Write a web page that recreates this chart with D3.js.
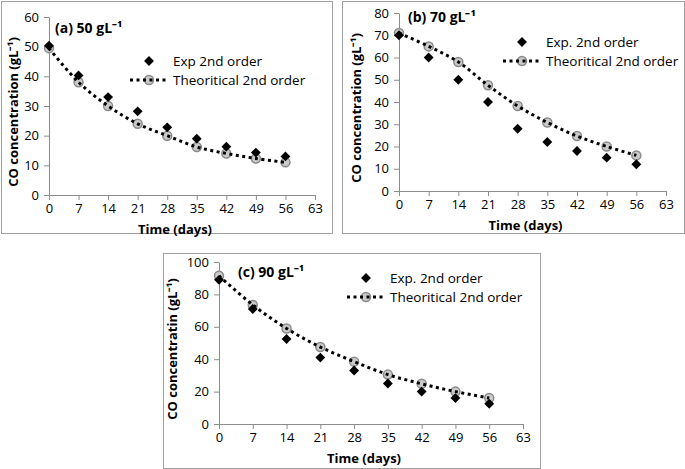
<!DOCTYPE html>
<html>
<head>
<meta charset="utf-8">
<script src="https://cdn.jsdelivr.net/npm/d3@7"></script>
<style>
  body { margin: 0; background: #fff; }
  text { font-family: "Open Sans", "Liberation Sans", sans-serif; fill: #000; }
</style>
</head>
<body>
<svg id="fig" width="685" height="469"></svg>
<script>
// time axis (days), shared by all three panels
var days = [0, 7, 14, 21, 28, 35, 42, 49, 56];
var xTicks = [0, 7, 14, 21, 28, 35, 42, 49, 56, 63];

// (a) 50 g/L
var expA = [50.3, 40.3, 33, 28.2, 22.8, 19, 16.3, 14.3, 13];
var theoA = [49.5, 38, 30, 24, 20, 16.2, 14, 12.3, 11];
// (b) 70 g/L
var expB = [70, 60, 50, 40, 28, 22, 18, 15, 12];
var theoB = [71, 65, 58, 47.5, 38.2, 30.8, 24.7, 20, 16];
// (c) 90 g/L
var expC = [89, 71, 52.5, 41, 33, 25, 20, 16, 12.5];
var theoC = [91.5, 73.5, 59, 47.5, 38.5, 30.5, 24.8, 20, 16];

var yTicksA = [0, 10, 20, 30, 40, 50, 60];
var yTicksB = [0, 10, 20, 30, 40, 50, 60, 70, 80];
var yTicksC = [0, 20, 40, 60, 80, 100];

var panels = [
  { label: "(a) 50 gL\u207B\u00B9", yTitle: "CO concentration (gL\u207B\u00B9)", expName: "Exp 2nd order",
    exp: expA, theo: theoA, yTicks: yTicksA,
    frame: [1, 1, 332, 233], x0: 49, x1: 315, y0: 195, y1: 17,
    lab: [55, 33], leg: [149, 61], legLine: [130, 167], yTitleX: 14 },
  { label: "(b) 70 gL\u207B\u00B9", yTitle: "CO concentration (gL\u207B\u00B9)", expName: "Exp. 2nd order",
    exp: expB, theo: theoB, yTicks: yTicksB,
    frame: [342, 1, 684, 233], x0: 399, x1: 666, y0: 191, y1: 13,
    lab: [408, 22], leg: [522, 42], legLine: [503, 541], yTitleX: 357 },
  { label: "(c) 90 gL\u207B\u00B9", yTitle: "CO concentratin (gL\u207B\u00B9)", expName: "Exp. 2nd order",
    exp: expC, theo: theoC, yTicks: yTicksC,
    frame: [163, 253, 540, 468], x0: 219, x1: 523, y0: 424, y1: 262,
    lab: [238, 277], leg: [366, 278], legLine: [347, 385], yTitleX: 173 }
];

var svg = d3.select("#fig");
var axisCol = "#8c8c8c";
var diamond = d3.symbol().type(d3.symbolDiamond2).size(62);

panels.forEach(function (p) {
  var g = svg.append("g");

  g.append("rect")
    .attr("x", p.frame[0] + 0.5).attr("y", p.frame[1] + 0.5)
    .attr("width", p.frame[2] - p.frame[0]).attr("height", p.frame[3] - p.frame[1])
    .attr("fill", "#fff").attr("stroke", "#a0a0a0").attr("stroke-width", 1);

  var x = d3.scaleLinear().domain([0, 63]).range([p.x0, p.x1]);
  var y = d3.scaleLinear().domain([0, d3.max(p.yTicks)]).range([p.y0, p.y1]);

  // x axis
  var xa = g.append("g").attr("transform", "translate(0," + p.y0 + ")")
    .call(d3.axisBottom(x).tickValues(xTicks).tickSizeInner(5).tickSizeOuter(0).tickPadding(4));
  // y axis
  var ya = g.append("g").attr("transform", "translate(" + p.x0 + ",0)")
    .call(d3.axisLeft(y).tickValues(p.yTicks).tickSizeInner(5).tickSizeOuter(0).tickPadding(5));
  [xa, ya].forEach(function (a) {
    a.select(".domain").attr("stroke", axisCol);
    a.selectAll(".tick line").attr("stroke", axisCol);
    a.selectAll("text").attr("font-size", 13).attr("font-family", "Open Sans, sans-serif");
  });

  g.append("text").attr("x", (p.x0 + p.x1) / 2 - 7).attr("y", p.y0 + 39)
    .attr("text-anchor", "middle").attr("font-size", 13).attr("font-weight", "bold")
    .text("Time (days)");

  g.append("text")
    .attr("transform", "translate(" + (p.yTitleX + 4) + "," + ((p.y0 + p.y1) / 2 + 6) + ") rotate(-90)")
    .attr("text-anchor", "middle").attr("font-size", 13).attr("font-weight", "bold")
    .text(p.yTitle);

  g.append("text").attr("x", p.lab[0]).attr("y", p.lab[1])
    .attr("font-size", 14).attr("font-weight", "bold").text(p.label);

  // theoretical: grey circles with dotted smooth line
  var pts = days.map(function (d, i) { return [x(d), y(p.theo[i])]; });
  g.selectAll(".theo").data(pts).enter().append("circle")
    .attr("cx", function (d) { return d[0]; }).attr("cy", function (d) { return d[1]; })
    .attr("r", 4.5).attr("fill", "#cacaca").attr("stroke", "#8a8a8a").attr("stroke-width", 1.5);
  g.append("path").attr("d", d3.line().curve(d3.curveCatmullRom)(pts))
    .attr("fill", "none").attr("stroke", "#000").attr("stroke-width", 3)
    .attr("stroke-dasharray", "3,3.5");

  // experimental: black diamonds
  g.selectAll(".exp").data(days).enter().append("path")
    .attr("d", diamond)
    .attr("transform", function (d, i) { return "translate(" + x(d) + "," + y(p.exp[i]) + ")"; })
    .attr("fill", "#000");

  // legend
  var lx = p.leg[0], ly = p.leg[1];
  g.append("path").attr("d", diamond).attr("transform", "translate(" + lx + "," + ly + ")").attr("fill", "#000");
  g.append("text").attr("x", lx + 24).attr("y", ly + 5).attr("font-size", 13.5).text(p.expName);
  g.append("circle").attr("cx", lx).attr("cy", ly + 19).attr("r", 4.5)
    .attr("fill", "#cacaca").attr("stroke", "#8a8a8a").attr("stroke-width", 1.5);
  g.append("line").attr("x1", p.legLine[0]).attr("x2", p.legLine[1])
    .attr("y1", ly + 19).attr("y2", ly + 19)
    .attr("stroke", "#000").attr("stroke-width", 3).attr("stroke-dasharray", "3,3.5");
  g.append("text").attr("x", lx + 24).attr("y", ly + 24).attr("font-size", 13.5).text("Theoritical 2nd order");
});
</script>
</body>
</html>
